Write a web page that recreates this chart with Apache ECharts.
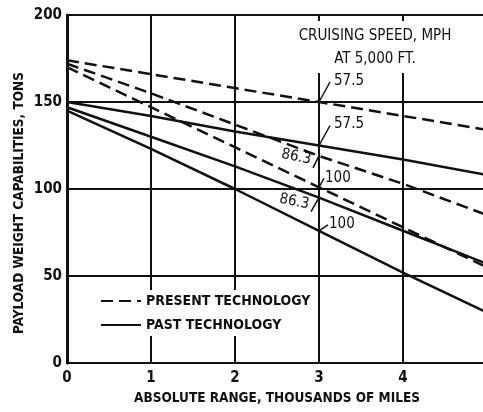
<!DOCTYPE html>
<html>
<head>
<meta charset="utf-8">
<title>Payload weight vs absolute range</title>
<script src="https://cdn.jsdelivr.net/npm/echarts@6/dist/echarts.min.js"></script>
<style>
  html, body { margin: 0; padding: 0; background: #fff; }
  #chart { width: 483px; height: 412px; }
</style>
</head>
<body>
<div id="chart"></div>
<script>
// range, thousands of miles
const ranges = [0, 1, 2, 3, 4, 5];
// present technology (dashed), tons
const present575 = [174, 166, 158, 150, 142, 134];
const present863 = [172, 155, 137, 119, 103, 85];
const present100 = [170, 147, 124, 101, 78, 55];
// past technology (solid), tons
const past575 = [150, 142, 133, 125, 117, 108];
const past863 = [147, 130, 113, 95, 76, 57];
const past100 = [145, 123, 100, 76, 52, 29];

const xTicks = [0, 1, 2, 3, 4];
const yTicks = [0, 50, 100, 150, 200];

const PRESENT = 'PRESENT TECHNOLOGY';
const PAST = 'PAST TECHNOLOGY';
const INK = '#111';
const FONT = '"Liberation Sans Narrow", "DejaVu Sans Condensed", sans-serif';

// one line series per cruising speed
function makeSeries(name, values, dashed) {
  return {
    name: name,
    type: 'line',
    data: ranges.map((x, i) => [x, values[i]]),
    symbol: 'none',
    silent: true,
    lineStyle: { color: INK, width: 2.5, type: dashed ? [12, 6] : 'solid' },
    itemStyle: { color: INK }
  };
}

const chart = echarts.init(document.getElementById('chart'), null, { renderer: 'canvas' });

chart.setOption({
  animation: false,
  backgroundColor: '#fff',
  // plot runs past the right edge of the picture, like the scan
  grid: { left: 67, top: 15, width: 420, height: 348, outerBoundsMode: 'none', containLabel: false },
  xAxis: {
    type: 'value',
    min: 0,
    max: 5,
    interval: 1,
    name: 'ABSOLUTE RANGE, THOUSANDS OF MILES',
    nameLocation: 'middle',
    nameGap: 28,
    nameTextStyle: { color: INK, fontFamily: FONT, fontWeight: 'bold', fontSize: 13.5 },
    axisLine: { lineStyle: { color: INK, width: 2 } },
    axisTick: { show: false },
    axisLabel: {
      color: INK, fontFamily: FONT, fontWeight: 'bold', fontSize: 15, margin: 8,
      formatter: v => (xTicks.indexOf(v) >= 0 ? String(v) : '')
    },
    splitLine: { show: true, lineStyle: { color: INK, width: 2 } }
  },
  yAxis: {
    type: 'value',
    min: yTicks[0],
    max: yTicks[yTicks.length - 1],
    interval: 50,
    axisLine: { show: true, lineStyle: { color: INK, width: 3 } },
    axisTick: { show: false },
    axisLabel: { color: INK, fontFamily: FONT, fontWeight: 'bold', fontSize: 15, margin: 5 },
    splitLine: { show: true, lineStyle: { color: INK, width: 2 } }
  },
  legend: {
    data: [PRESENT, PAST],
    orient: 'vertical',
    left: 94,
    top: 290,
    itemWidth: 40,
    itemHeight: 14,
    itemGap: 10,
    padding: [4, 6, 4, 6],
    backgroundColor: '#fff',
    selectedMode: false,
    itemStyle: { opacity: 0 },
    textStyle: { color: INK, fontFamily: FONT, fontWeight: 'bold', fontSize: 14 }
  },
  series: [
    makeSeries(PRESENT, present575, true),
    makeSeries(PRESENT, present863, true),
    makeSeries(PRESENT, present100, true),
    makeSeries(PAST, past575, false),
    makeSeries(PAST, past863, false),
    makeSeries(PAST, past100, false)
  ]
});

// speed labels with leader lines, anchored where each curve crosses 3,000 miles
const labelSpecs = [
  { values: present575, text: '57.5', dx: 11, dy: -20, tx: 15, ty: -21, align: 'left', rot: 0 },
  { values: past575, text: '57.5', dx: 11, dy: -20, tx: 15, ty: -21, align: 'left', rot: 0 },
  { values: present863, text: '86.3', dx: -6, dy: 12, tx: -8, ty: 4, align: 'right', rot: -0.2 },
  { values: present100, text: '100', dx: 5, dy: -9, tx: 6, ty: -9, align: 'left', rot: 0 },
  { values: past863, text: '86.3', dx: -8, dy: 14, tx: -10, ty: 7, align: 'right', rot: -0.2 },
  { values: past100, text: '100', dx: 9, dy: -6, tx: 10, ty: -7, align: 'left', rot: 0 }
];
const at = ranges.indexOf(3);
const graphics = [];
labelSpecs.forEach(spec => {
  const p = chart.convertToPixel({ gridIndex: 0 }, [ranges[at], spec.values[at]]);
  graphics.push({
    type: 'line',
    silent: true,
    z: 20,
    shape: { x1: p[0], y1: p[1], x2: p[0] + spec.dx, y2: p[1] + spec.dy },
    style: { stroke: INK, lineWidth: 1.5 }
  });
  graphics.push({
    type: 'text',
    silent: true,
    z: 20,
    x: p[0] + spec.tx,
    y: p[1] + spec.ty,
    rotation: spec.rot,
    style: {
      text: spec.text,
      fill: INK,
      font: '15px ' + FONT,
      align: spec.align,
      verticalAlign: 'middle'
    }
  });
});

// y axis title, placed by hand to sit where the scan has it
graphics.push({
  type: 'text',
  silent: true,
  x: 19,
  y: 203,
  rotation: Math.PI / 2,
  style: {
    text: 'PAYLOAD WEIGHT CAPABILITIES, TONS',
    fill: INK,
    font: 'bold 13.5px ' + FONT,
    align: 'center',
    verticalAlign: 'middle'
  }
});

// note about cruising speed, on white so grid lines stop under it
graphics.push({
  type: 'text',
  silent: true,
  z: 15,
  x: 375,
  y: 21,
  style: {
    text: 'CRUISING SPEED, MPH\nAT 5,000 FT.',
    fill: INK,
    font: '15px ' + FONT,
    align: 'center',
    verticalAlign: 'top',
    lineHeight: 23,
    backgroundColor: '#fff',
    padding: [4, 6, 2, 6]
  }
});

chart.setOption({ graphic: graphics });
</script>
</body>
</html>
